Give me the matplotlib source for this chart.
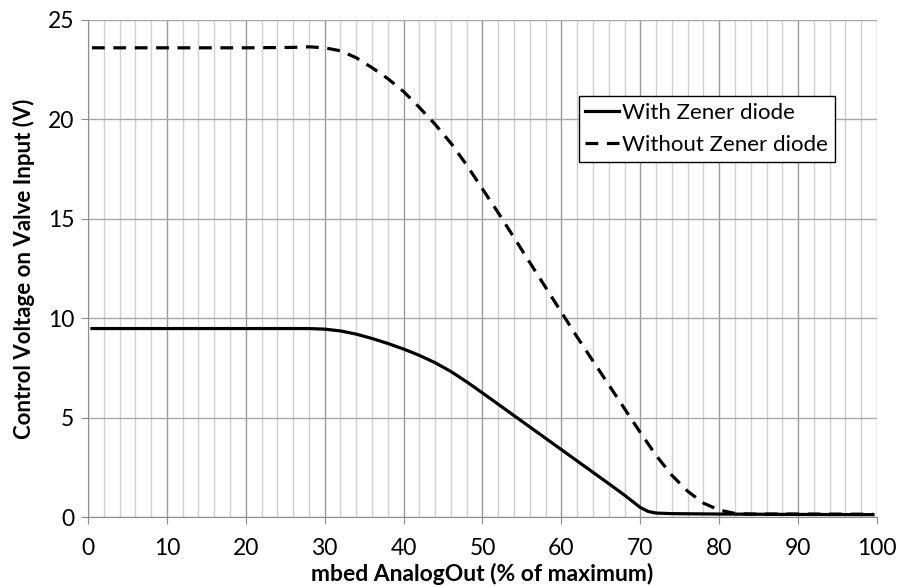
import matplotlib.pyplot as plt
from matplotlib.ticker import MultipleLocator

plt.rcParams['font.family'] = ['Lato', 'DejaVu Sans']

# mbed AnalogOut (% of maximum)
x_with = [0.5, 10, 20, 28, 30, 32, 34, 36, 38, 40, 42, 44, 46, 48, 50, 52, 54, 56, 58,
          60, 62, 64, 66, 68, 69, 70, 71, 72, 74, 80, 90, 99.5]
v_with = [9.48, 9.48, 9.48, 9.48, 9.45, 9.36, 9.2, 8.98, 8.73, 8.45, 8.13, 7.76, 7.32,
          6.8, 6.24, 5.67, 5.1, 4.53, 3.96, 3.39, 2.82, 2.25, 1.68, 1.1, 0.79, 0.48,
          0.28, 0.2, 0.17, 0.15, 0.13, 0.12]

x_without = [0.5, 10, 20, 26, 28, 30, 32, 34, 36, 38, 40, 42, 44, 46, 48, 50, 52, 54,
             56, 58, 60, 62, 64, 66, 68, 70, 72, 74, 76, 78, 80, 82, 84, 90, 99.5]
v_without = [23.6, 23.6, 23.6, 23.62, 23.65, 23.6, 23.45, 23.1, 22.6, 22.05, 21.4, 20.6,
             19.75, 18.8, 17.7, 16.5, 15.3, 14.05, 12.8, 11.55, 10.3, 9.05, 7.85, 6.65,
             5.45, 4.25, 3.1, 2.1, 1.3, 0.7, 0.35, 0.18, 0.15, 0.15, 0.14]

fig = plt.figure(figsize=(8.98, 5.86), dpi=100)
ax = fig.add_axes([0.098, 0.1177, 0.8786, 0.8482])

ax.plot(x_with, v_with, color='black', linewidth=2.3, label='With Zener diode')
ax.plot(x_without, v_without, color='black', linewidth=2.3, linestyle=(0, (4, 2.7)),
        label='Without Zener diode')

ax.set_xlim(0, 100)
ax.set_ylim(0, 25)
ax.xaxis.set_major_locator(MultipleLocator(10))
ax.xaxis.set_minor_locator(MultipleLocator(2))
ax.yaxis.set_major_locator(MultipleLocator(5))

ax.grid(which='major', axis='x', color='#9a9a9a', linewidth=1.0)
ax.grid(which='minor', axis='x', color='#d0d0d0', linewidth=1.0)
ax.grid(which='major', axis='y', color='#a8a8a8', linewidth=1.0)
ax.set_axisbelow(True)

for s in ['top', 'right']:
    ax.spines[s].set_visible(False)
for s in ['left', 'bottom']:
    ax.spines[s].set_color('#8c8c8c')

ax.tick_params(which='major', direction='out', length=5, color='#8c8c8c',
               labelsize=16.5, pad=5)
ax.tick_params(axis='x', which='major', pad=10)
ax.tick_params(which='minor', length=0)

ax.set_xlabel('mbed AnalogOut (% of maximum)', fontsize=16.5, fontweight='bold', labelpad=3)
ax.set_ylabel('Control Voltage on Valve Input (V)', fontsize=16, fontweight='bold', labelpad=9)

leg = ax.legend(loc='upper left', bbox_to_anchor=(0.622, 0.847), fontsize=16,
                frameon=True, fancybox=False, handlelength=1.5, handletextpad=0.15,
                borderpad=0.3, labelspacing=0.55, borderaxespad=0)
leg.get_frame().set_edgecolor('black')
leg.get_frame().set_linewidth(1.0)
leg.get_frame().set_alpha(1)

fig.savefig('out.png', dpi=100)
